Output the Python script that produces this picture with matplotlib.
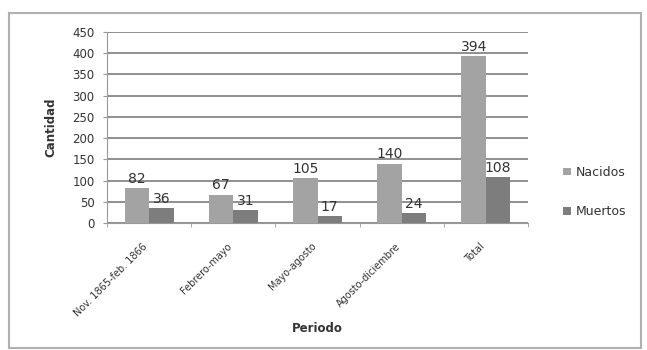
import matplotlib
matplotlib.use("Agg")
import matplotlib.pyplot as plt
from matplotlib.patches import Rectangle
import numpy as np

categories = ["Nov. 1865-feb. 1866", "Febrero-mayo", "Mayo-agosto", "Agosto-diciembre", "Total"]
nacidos = [82, 67, 105, 140, 394]
muertos = [36, 31, 17, 24, 108]
yticks = list(range(0, 451, 50))

W, H = 647, 350
fig = plt.figure(figsize=(W / 100, H / 100), dpi=100)
fig.patch.set_facecolor("white")

# chart frame
fig.add_artist(Rectangle((9 / W, 2 / H), 632 / W, 335 / H, transform=fig.transFigure,
                         fill=False, edgecolor="#b0b0b0", linewidth=1.5))

ax = fig.add_axes([107 / W, 1 - 223 / H, (528 - 107) / W, (223 - 32) / H])

x = np.arange(len(categories))
bw = 0.29
c_nac = "#a3a3a3"
c_mue = "#7d7d7d"
b1 = ax.bar(x - bw / 2, nacidos, bw, color=c_nac, label="Nacidos", zorder=3)
b2 = ax.bar(x + bw / 2, muertos, bw, color=c_mue, label="Muertos", zorder=3)

for rect, v in zip(b1, nacidos):
    ax.text(rect.get_x() + rect.get_width() / 2, v + 5, str(v), ha="center", va="bottom",
            fontsize=10, color="#333333", zorder=4)
for rect, v in zip(b2, muertos):
    ax.text(rect.get_x() + rect.get_width() / 2, v + 5, str(v), ha="center", va="bottom",
            fontsize=10, color="#333333", zorder=4)

ax.set_xlim(-0.5, len(categories) - 0.5)
ax.set_ylim(0, 450)
ax.set_yticks(yticks)
ax.tick_params(axis="y", labelsize=8.5, length=3, color="#999999", labelcolor="#333333", pad=6)
ax.yaxis.grid(True, color="#8f8f8f", linewidth=1.4, zorder=0)

ax.set_xticks(x - 0.08)
ax.set_xticklabels(categories, rotation=45, ha="right", rotation_mode="anchor",
                   fontsize=7, color="#333333")
ax.tick_params(axis="x", length=0, pad=13)
ax.set_xticks(np.arange(-0.5, len(categories), 1), minor=True)
ax.tick_params(axis="x", which="minor", length=3, color="#999999")

for s in ["top", "right"]:
    ax.spines[s].set_visible(False)
ax.spines["left"].set_color("#999999")
ax.spines["bottom"].set_color("#999999")

ax.set_ylabel("Cantidad", fontsize=8.5, fontweight="bold", color="#333333", labelpad=11)
fig.text(317 / W, 1 - 328 / H, "Periodo", ha="center", va="center", fontsize=8.5,
         fontweight="bold", color="#333333")

fig.legend(handles=[b1, b2], labels=["Nacidos", "Muertos"], loc="center left",
           bbox_to_anchor=(552 / W, 1 - 192 / H), frameon=False, fontsize=9,
           handlelength=0.6, handleheight=0.6, handletextpad=0.4, labelspacing=2.1,
           labelcolor="#333333")

fig.savefig("out.png", dpi=100, facecolor="white")
